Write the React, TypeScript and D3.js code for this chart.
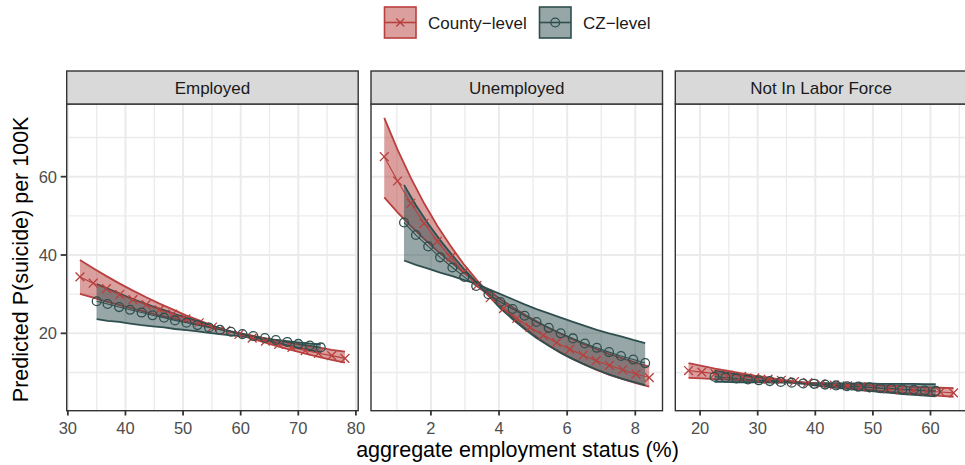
import * as React from "react";
import * as d3 from "d3";

// facet labels
const panelNames = ["Employed", "Unemployed", "Not In Labor Force"];
const seriesNames = ["County\u2212level", "CZ\u2212level"];

// Employed, county-level
const countyEmpX = [32.1, 34.4, 36.7, 39.0, 41.3, 43.6, 45.9, 48.2, 50.5, 52.8, 55.1, 57.4, 59.7, 62.0, 64.3, 66.6, 68.9, 71.2, 73.5, 75.8, 78.1];
const countyEmpMid = [34.4, 32.8, 31.4, 29.9, 28.6, 27.3, 26.0, 24.9, 23.7, 22.7, 21.6, 20.7, 19.7, 18.8, 18.0, 17.2, 16.4, 15.6, 14.9, 14.3, 13.6];
const countyEmpHi = [38.7, 36.6, 34.6, 32.7, 30.9, 29.2, 27.6, 26.1, 24.6, 23.3, 22.0, 20.8, 19.7, 18.6, 17.6, 16.6, 15.7, 14.8, 14.0, 13.2, 12.5];
const countyEmpLo = [30.1, 29.1, 28.1, 27.2, 26.3, 25.4, 24.6, 23.8, 23.0, 22.2, 21.5, 20.7, 20.1, 19.4, 18.7, 18.1, 17.5, 16.9, 16.4, 15.8, 15.3];

// Employed, CZ-level
const czEmpX = [35.0, 36.9, 38.9, 40.8, 42.8, 44.7, 46.7, 48.6, 50.6, 52.5, 54.5, 56.4, 58.3, 60.3, 62.2, 64.2, 66.1, 68.1, 70.0, 72.0, 73.9];
const czEmpMid = [28.2, 27.5, 26.7, 26.0, 25.3, 24.6, 24.0, 23.3, 22.7, 22.1, 21.5, 20.9, 20.4, 19.8, 19.3, 18.8, 18.3, 17.8, 17.3, 16.9, 16.4];
const czEmpHi = [32.6, 31.4, 30.2, 29.0, 27.9, 26.9, 25.9, 24.9, 24.0, 23.1, 22.2, 21.3, 20.5, 19.8, 19.0, 18.3, 17.6, 16.9, 16.3, 15.7, 15.1];
const czEmpLo = [23.6, 23.2, 22.9, 22.5, 22.1, 21.8, 21.5, 21.1, 20.8, 20.5, 20.1, 19.8, 19.5, 19.2, 18.9, 18.6, 18.3, 18.0, 17.7, 17.4, 17.2];

// Unemployed, county-level
const countyUnX = [0.63, 1.02, 1.41, 1.8, 2.19, 2.58, 2.96, 3.35, 3.74, 4.13, 4.52, 4.91, 5.3, 5.69, 6.08, 6.47, 6.85, 7.24, 7.63, 8.02, 8.41];
const countyUnMid = [65.1, 58.9, 53.2, 48.1, 43.5, 39.4, 35.6, 32.2, 29.1, 26.3, 23.8, 21.5, 19.5, 17.6, 15.9, 14.4, 13.0, 11.8, 10.7, 9.6, 8.7];
const countyUnHi = [75.0, 66.9, 59.7, 53.2, 47.4, 42.3, 37.7, 33.6, 29.8, 26.2, 23.1, 20.3, 17.8, 15.7, 13.8, 12.2, 10.7, 9.4, 8.3, 7.3, 6.4];
const countyUnLo = [54.7, 50.9, 47.4, 44.1, 41.0, 38.2, 35.5, 33.0, 30.6, 28.2, 26.0, 24.0, 22.1, 20.4, 18.8, 17.3, 16.0, 14.7, 13.6, 12.5, 11.5];

// Unemployed, CZ-level
const czUnX = [1.21, 1.56, 1.92, 2.27, 2.63, 2.98, 3.33, 3.69, 4.04, 4.4, 4.75, 5.1, 5.46, 5.81, 6.17, 6.52, 6.87, 7.23, 7.58, 7.94, 8.29];
const czUnMid = [48.3, 45.1, 42.2, 39.4, 36.8, 34.4, 32.1, 30.0, 28.0, 26.2, 24.5, 22.9, 21.4, 20.0, 18.7, 17.4, 16.3, 15.2, 14.2, 13.3, 12.4];
const czUnHi = [57.9, 52.7, 48.0, 43.8, 39.9, 36.3, 33.1, 29.6, 26.4, 23.6, 21.1, 18.8, 16.8, 15.0, 13.4, 12.0, 10.7, 9.5, 8.5, 7.6, 6.8];
const czUnLo = [38.6, 37.5, 36.5, 35.5, 34.6, 33.6, 32.7, 31.3, 30.0, 28.7, 27.4, 26.2, 25.1, 24.0, 22.9, 21.9, 20.9, 20.0, 19.2, 18.3, 17.5];

// Not in labor force, county-level
const countyNlfX = [18.0, 20.3, 22.6, 24.9, 27.2, 29.5, 31.8, 34.1, 36.4, 38.7, 41.0, 43.3, 45.6, 47.9, 50.2, 52.5, 54.8, 57.1, 59.4, 61.7, 64.0];
const countyNlfMid = [10.5, 10.1, 9.7, 9.3, 9.0, 8.6, 8.3, 8.0, 7.7, 7.4, 7.1, 6.8, 6.6, 6.3, 6.1, 5.8, 5.6, 5.4, 5.2, 5.0, 4.8];
const countyNlfHi = [12.4, 11.7, 11.0, 10.4, 9.8, 9.2, 8.7, 8.2, 7.7, 7.3, 6.9, 6.5, 6.1, 5.8, 5.4, 5.1, 4.8, 4.6, 4.3, 4.0, 3.8];
const countyNlfLo = [8.6, 8.5, 8.3, 8.2, 8.0, 7.9, 7.7, 7.6, 7.5, 7.3, 7.2, 7.1, 6.9, 6.8, 6.7, 6.6, 6.5, 6.3, 6.2, 6.1, 6.0];

// Not in labor force, CZ-level
const czNlfX = [22.5, 24.4, 26.3, 28.3, 30.2, 32.1, 34.0, 35.9, 37.9, 39.8, 41.7, 43.6, 45.5, 47.5, 49.4, 51.3, 53.2, 55.1, 57.1, 59.0, 60.9];
const czNlfMid = [8.9, 8.7, 8.5, 8.2, 8.0, 7.8, 7.6, 7.4, 7.2, 7.1, 6.9, 6.7, 6.5, 6.4, 6.2, 6.0, 5.9, 5.7, 5.6, 5.4, 5.3];
const czNlfHi = [10.5, 10.0, 9.5, 9.1, 8.6, 8.2, 7.8, 7.4, 7.1, 6.7, 6.4, 6.1, 5.8, 5.5, 5.3, 5.0, 4.8, 4.5, 4.3, 4.1, 3.9];
const czNlfLo = [7.6, 7.6, 7.5, 7.5, 7.5, 7.4, 7.4, 7.4, 7.4, 7.3, 7.3, 7.3, 7.2, 7.2, 7.2, 7.1, 7.1, 7.1, 7.1, 7.0, 7.0];

const yTicks = [20, 40, 60];
const yMinor = [10, 30, 50, 70];
const xTicksByPanel = [
  [30, 40, 50, 60, 70, 80],
  [2, 4, 6, 8],
  [20, 30, 40, 50, 60],
];
const xMinorByPanel = [
  [35, 45, 55, 65, 75],
  [1, 3, 5, 7],
  [15, 25, 35, 45, 55, 65],
];

const colors = ["#B8403E", "#2F4F4F"];
const FONT = "'Liberation Sans', Arial, Helvetica, sans-serif";

const zip = (x, mid, lo, hi) => x.map((v, i) => ({ x: v, mid: mid[i], lo: lo[i], hi: hi[i] }));

const panels = [
  [zip(countyEmpX, countyEmpMid, countyEmpLo, countyEmpHi), zip(czEmpX, czEmpMid, czEmpLo, czEmpHi)],
  [zip(countyUnX, countyUnMid, countyUnLo, countyUnHi), zip(czUnX, czUnMid, czUnLo, czUnHi)],
  [zip(countyNlfX, countyNlfMid, countyNlfLo, countyNlfHi), zip(czNlfX, czNlfMid, czNlfLo, czNlfHi)],
];

const expand = ([a, b]) => {
  const pad = (b - a) * 0.05;
  return [a - pad, b + pad];
};

const Cross = ({ x, y, color, s = 4.4 }) => (
  <path
    d={`M${x - s},${y - s}L${x + s},${y + s}M${x - s},${y + s}L${x + s},${y - s}`}
    stroke={color}
    strokeWidth={1.3}
    fill="none"
  />
);

const Ring = ({ x, y, color }) => (
  <circle cx={x} cy={y} r={4.4} stroke={color} strokeWidth={1.3} fill="none" />
);

export default function App() {
  const width = 965;
  const height = 465;
  const panelTop = 104;
  const stripTop = 71;
  const panelBottom = 410.7;
  const panelW = 291.5;
  const gap = 12.8;
  const left0 = 66.7;

  const allVals = panels.flat(2).flatMap(d => [d.lo, d.hi, d.mid]);
  const y = d3
    .scaleLinear()
    .domain(expand(d3.extent(allVals)))
    .range([panelBottom, panelTop]);

  return (
    <svg
      width={width}
      height={height}
      style={{ position: "absolute", left: 0, top: 0, background: "#fff" }}
      fontFamily={FONT}
    >
      <rect width={width} height={height} fill="#fff" />

      {/* legend */}
      {seriesNames.map((name, i) => {
        const kx = i === 0 ? 384.5 : 539.5;
        const lx = i === 0 ? 428 : 583;
        const cy = 22.5;
        return (
          <g key={name}>
            <rect x={kx} y={7} width={31.5} height={31} fill={colors[i]} fillOpacity={0.5} stroke={colors[i]} strokeWidth={1.6} />
            <line x1={kx} x2={kx + 31.5} y1={cy} y2={cy} stroke={colors[i]} strokeWidth={1.6} />
            {i === 0 ? <Cross x={kx + 15.75} y={cy} color={colors[i]} s={4} /> : <Ring x={kx + 15.75} y={cy} color={colors[i]} />}
            <text x={lx} y={29} fontSize={17} fill="#1a1a1a">{name}</text>
          </g>
        );
      })}

      {panels.map((series, p) => {
        const x0 = left0 + p * (panelW + gap);
        const xs = series.flat().map(d => d.x);
        const x = d3.scaleLinear().domain(expand(d3.extent(xs))).range([x0, x0 + panelW]);

        const area = d3.area().x(d => x(d.x)).y0(d => y(d.lo)).y1(d => y(d.hi));
        const lineLo = d3.line().x(d => x(d.x)).y(d => y(d.lo));
        const lineHi = d3.line().x(d => x(d.x)).y(d => y(d.hi));
        const lineMid = d3.line().x(d => x(d.x)).y(d => y(d.mid));

        return (
          <g key={p}>
            <defs>
              <clipPath id={`clip${p}`}>
                <rect x={x0} y={panelTop} width={panelW} height={panelBottom - panelTop} />
              </clipPath>
            </defs>
            <rect x={x0} y={panelTop} width={panelW} height={panelBottom - panelTop} fill="#fff" />
            {/* grid */}
            {yMinor.map(v => (
              <line key={"ym" + v} x1={x0} x2={x0 + panelW} y1={y(v)} y2={y(v)} stroke="#EBEBEB" strokeWidth={1.3} />
            ))}
            {xMinorByPanel[p].filter(v => x(v) > x0 && x(v) < x0 + panelW).map(v => (
              <line key={"xm" + v} x1={x(v)} x2={x(v)} y1={panelTop} y2={panelBottom} stroke="#EBEBEB" strokeWidth={1.3} />
            ))}
            {yTicks.map(v => (
              <line key={"y" + v} x1={x0} x2={x0 + panelW} y1={y(v)} y2={y(v)} stroke="#EBEBEB" strokeWidth={2} />
            ))}
            {xTicksByPanel[p].map(v => (
              <line key={"x" + v} x1={x(v)} x2={x(v)} y1={panelTop} y2={panelBottom} stroke="#EBEBEB" strokeWidth={2} />
            ))}

            {/* data */}
            <g clipPath={`url(#clip${p})`}>
              {series.map((s, i) => (
                <g key={"r" + i}>
                  <path d={area(s)} fill={colors[i]} fillOpacity={0.5} />
                  <path d={lineLo(s)} fill="none" stroke={colors[i]} strokeWidth={1.8} />
                  <path d={lineHi(s)} fill="none" stroke={colors[i]} strokeWidth={1.8} />
                </g>
              ))}
              {series.map((s, i) => (
                <path key={"m" + i} d={lineMid(s)} fill="none" stroke={colors[i]} strokeWidth={1.1} />
              ))}
              {series.map((s, i) =>
                s.map((d, j) =>
                  i === 0 ? (
                    <Cross key={`c${i}-${j}`} x={x(d.x)} y={y(d.mid)} color={colors[i]} />
                  ) : (
                    <Ring key={`c${i}-${j}`} x={x(d.x)} y={y(d.mid)} color={colors[i]} />
                  )
                )
              )}
            </g>

            {/* border */}
            <rect x={x0} y={panelTop} width={panelW} height={panelBottom - panelTop} fill="none" stroke="#333333" strokeWidth={1.4} />

            {/* strip */}
            <rect x={x0} y={stripTop} width={panelW} height={panelTop - stripTop} fill="#D9D9D9" stroke="#333333" strokeWidth={1.4} />
            <text x={x0 + panelW / 2} y={94} textAnchor="middle" fontSize={17} fill="#1a1a1a">
              {panelNames[p]}
            </text>

            {/* x axis */}
            {xTicksByPanel[p].map(v => (
              <g key={"xt" + v}>
                <line x1={x(v)} x2={x(v)} y1={panelBottom} y2={panelBottom + 4.8} stroke="#333333" strokeWidth={1.8} />
                <text x={x(v)} y={434} textAnchor="middle" fontSize={16.5} fill="#4D4D4D">{v}</text>
              </g>
            ))}
          </g>
        );
      })}

      {/* y axis */}
      {yTicks.map(v => (
        <g key={"yt" + v}>
          <line x1={left0 - 6} x2={left0} y1={y(v)} y2={y(v)} stroke="#333333" strokeWidth={1.8} />
          <text x={57} y={y(v)} dy="0.36em" textAnchor="end" fontSize={16.5} fill="#4D4D4D">{v}</text>
        </g>
      ))}

      <text
        transform={`translate(27.5,${(panelTop + panelBottom) / 2 + 2}) rotate(-90)`}
        textAnchor="middle"
        fontSize={21.5}
        fill="#000"
      >
        Predicted P(suicide) per 100K
      </text>
      <text x={517.5} y={457} textAnchor="middle" fontSize={21.5} fill="#000">
        aggregate employment status (%)
      </text>
    </svg>
  );
}
